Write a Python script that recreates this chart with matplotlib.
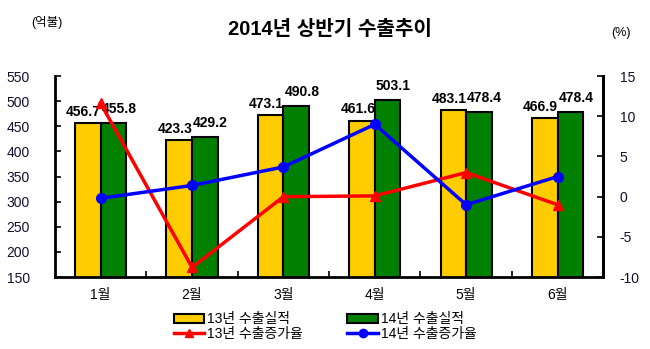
import matplotlib
matplotlib.use("Agg")
import matplotlib.pyplot as plt
import numpy as np
from matplotlib.patches import Patch
from matplotlib.lines import Line2D

plt.rcParams['font.family'] = ['Liberation Sans', 'Noto Sans CJK KR', 'DejaVu Sans']
plt.rcParams['axes.unicode_minus'] = False

months = ['1월', '2월', '3월', '4월', '5월', '6월']
exp13 = [456.7, 423.3, 473.1, 461.6, 483.1, 466.9]
exp14 = [455.8, 429.2, 490.8, 503.1, 478.4, 478.4]
rate13 = [11.6, -8.8, 0.0, 0.1, 3.0, -1.0]
rate14 = [-0.2, 1.4, 3.7, 9.0, -1.0, 2.5]

fig = plt.figure(figsize=(6.5, 3.49), dpi=100)
ax = fig.add_axes([0.0846, 0.206, 0.8434, 0.576])
x = np.arange(len(months))
w = 0.28

ax.bar(x - w/2, exp13, w, color='#FFCC00', edgecolor='black', linewidth=1.5, zorder=2)
ax.bar(x + w/2, exp14, w, color='#008000', edgecolor='black', linewidth=1.5, zorder=2)

for i in range(len(months)):
    ax.annotate(f"{exp13[i]:.1f}", (x[i] - w/2, exp13[i]), xytext=(-3, 3),
                textcoords='offset points', ha='center', va='bottom',
                fontsize=10, fontweight='bold', zorder=5)
    ax.annotate(f"{exp14[i]:.1f}", (x[i] + w/2, exp14[i]), xytext=(4, 5),
                textcoords='offset points', ha='center', va='bottom',
                fontsize=10, fontweight='bold', zorder=5)

ax.set_ylim(150, 550)
ax.set_yticks(range(150, 551, 50))
ax.set_xlim(-0.5, len(months) - 0.5)
ax.set_xticks(x)
ax.set_xticklabels(months, fontsize=10)
ax.set_xticks(np.arange(0.5, len(months) - 0.5, 1), minor=True)
ax.tick_params(axis='x', which='major', length=0, pad=8)
ax.tick_params(axis='x', which='minor', direction='in', length=4, width=1.2)
ax.tick_params(axis='y', direction='in', length=4, width=1.2, labelsize=10, pad=18,
               labelcolor='#101030')
for s in ['left', 'bottom', 'right']:
    ax.spines[s].set_linewidth(2)
ax.spines['top'].set_visible(False)

ax2 = ax.twinx()
ax2.plot(x, rate13, color='red', linewidth=2.5, marker='^', markersize=7, zorder=3)
ax2.plot(x, rate14, color='blue', linewidth=2.5, marker='o', markersize=7, zorder=3)
ax2.set_ylim(-10, 15)
ax2.set_yticks(range(-10, 16, 5))
ax2.tick_params(axis='y', direction='in', length=4, width=1.2, labelsize=10, pad=12,
                labelcolor='#101030')
ax2.spines['right'].set_linewidth(2)
ax2.spines['left'].set_visible(False)
ax2.spines['top'].set_visible(False)
ax2.spines['bottom'].set_visible(False)

fig.text(0.508, 0.915, '2014년 상반기 수출추이', ha='center', va='center',
         fontsize=14.5, fontweight='bold')
fig.text(0.072, 0.935, '(억불)', ha='center', va='center', fontsize=9)
fig.text(0.955, 0.905, '(%)', ha='center', va='center', fontsize=9)

handles = [
    Patch(facecolor='#FFCC00', edgecolor='black', linewidth=1.5, label='13년 수출실적'),
    Patch(facecolor='#008000', edgecolor='black', linewidth=1.5, label='14년 수출실적'),
    Line2D([0], [0], color='red', linewidth=2.5, marker='^', markersize=6, label='13년 수출증가율'),
    Line2D([0], [0], color='blue', linewidth=2.5, marker='o', markersize=6, label='14년 수출증가율'),
]
order = [handles[0], handles[2], handles[1], handles[3]]
fig.legend(handles=order, ncol=2, loc='center', bbox_to_anchor=(0.50, 0.064),
           frameon=False, fontsize=10, handlelength=2.2, handleheight=0.55,
           handletextpad=0.2, columnspacing=3.2, labelspacing=0.05)

fig.savefig('out.png', dpi=100)
